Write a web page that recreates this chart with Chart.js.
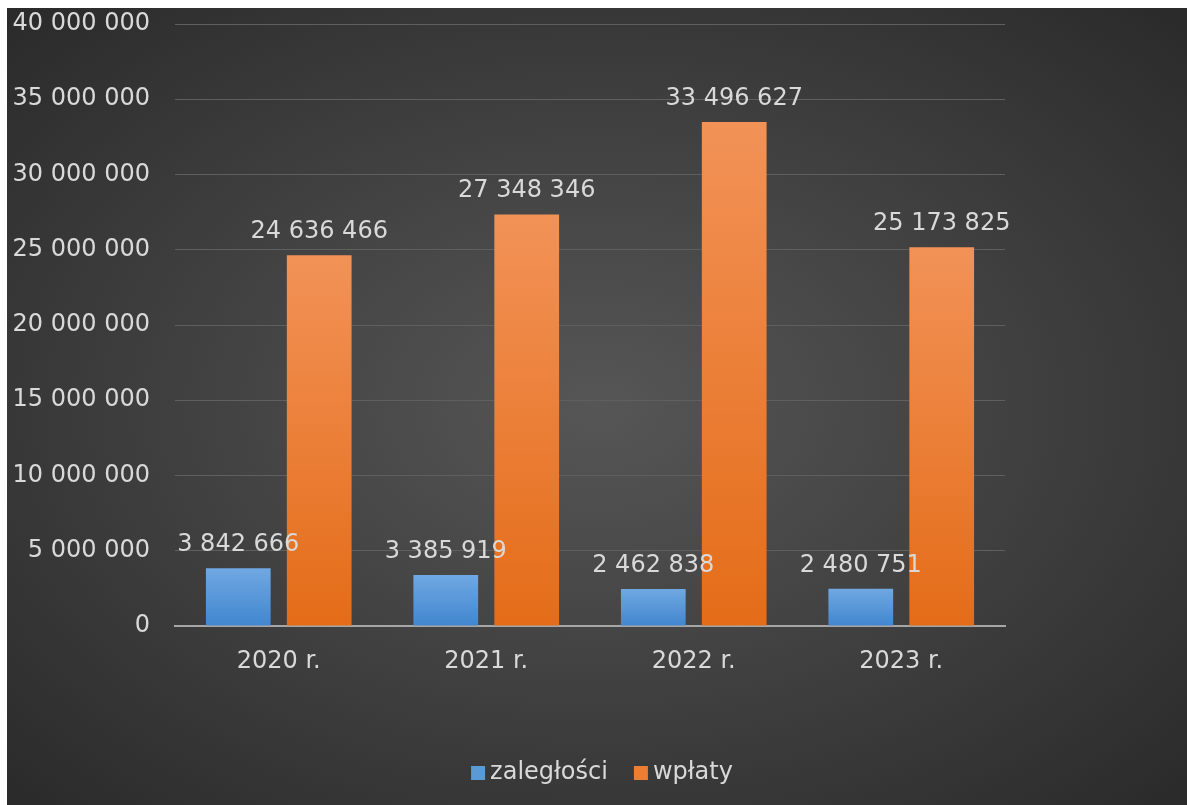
<!DOCTYPE html>
<html>
<head>
<meta charset="utf-8">
<script src="https://cdn.jsdelivr.net/npm/chart.js@4"></script>
<style>
    html, body { margin: 0; padding: 0; background: #fff; }
    #wrap {
        position: absolute; left: 7px; top: 8px; width: 1180px; height: 797px;
        background: radial-gradient(ellipse at 50% 50%, #565656 0%, #474747 35%, #2a2a2a 100%);
    }
</style>
</head>
<body>
<div id="wrap"><canvas id="chart" width="1180" height="797"></canvas></div>
<script>
const categories = ['2020 r.', '2021 r.', '2022 r.', '2023 r.'];
const zaleglosci = [3842666, 3385919, 2462838, 2480751];
const wplaty = [24636466, 27348346, 33496627, 25173825];
const seriesNames = ['zaległości', 'wpłaty'];
const legendColors = ['#5b9bd5', '#ed7d31'];

const FONT = '"DejaVu Sans", Verdana, sans-serif';

// spacje jako separator tysięcy
function fmt(v) {
    return String(Math.round(v)).replace(/\B(?=(\d{3})+(?!\d))/g, ' ');
}

// gradient per słupek: jaśniejszy u góry
function barGradient(top, bottom, fallback) {
    return function (ctx) {
        const chart = ctx.chart;
        const y = chart.scales && chart.scales.y;
        if (!chart.chartArea || !y || ctx.raw == null) return fallback;
        const yTop = y.getPixelForValue(ctx.raw);
        const yBot = y.getPixelForValue(0);
        const g = chart.ctx.createLinearGradient(0, yTop, 0, yBot);
        g.addColorStop(0, top);
        g.addColorStop(1, bottom);
        return g;
    };
}

const valueLabels = {
    id: 'valueLabels',
    afterDatasetsDraw(chart) {
        const ctx = chart.ctx;
        ctx.save();
        ctx.font = '24px ' + FONT;
        ctx.fillStyle = '#d9d9d9';
        ctx.textAlign = 'center';
        ctx.textBaseline = 'alphabetic';
        chart.data.datasets.forEach((ds, i) => {
            chart.getDatasetMeta(i).data.forEach((bar, j) => {
                ctx.fillText(fmt(ds.data[j]), bar.x, bar.y - 17);
            });
        });
        ctx.restore();
    }
};

// legenda wyśrodkowana na całym płótnie (jak w Excelu)
const bottomLegend = {
    id: 'bottomLegend',
    afterDraw(chart) {
        const ctx = chart.ctx;
        ctx.save();
        ctx.font = '24px ' + FONT;
        ctx.textBaseline = 'middle';
        const box = 14, gap = 5, spacing = 26;
        const widths = seriesNames.map(n => box + gap + ctx.measureText(n).width);
        const total = widths.reduce((a, b) => a + b, 0) + spacing * (widths.length - 1);
        let x = (chart.width - total) / 2 + 5;
        const yc = 765;
        seriesNames.forEach((n, i) => {
            ctx.fillStyle = legendColors[i];
            ctx.fillRect(x, yc - box / 2, box, box);
            ctx.fillStyle = '#d9d9d9';
            ctx.textAlign = 'left';
            ctx.fillText(n, x + box + gap, yc);
            x += widths[i] + spacing;
        });
        ctx.restore();
    }
};

Chart.defaults.font.family = FONT;
Chart.defaults.color = '#d9d9d9';

new Chart(document.getElementById('chart'), {
    type: 'bar',
    data: {
        labels: categories,
        datasets: [
            {
                label: seriesNames[0],
                data: zaleglosci,
                backgroundColor: barGradient('#70a8e2', '#4186cf', legendColors[0]),
                categoryPercentage: 0.78,
                barPercentage: 0.8
            },
            {
                label: seriesNames[1],
                data: wplaty,
                backgroundColor: barGradient('#f29257', '#e46c18', legendColors[1]),
                categoryPercentage: 0.78,
                barPercentage: 0.8
            }
        ]
    },
    options: {
        responsive: false,
        animation: false,
        layout: { padding: { top: 16, right: 182, bottom: 0, left: 0 } },
        scales: {
            x: {
                grid: { display: false, drawTicks: false },
                border: { display: true, color: '#a6a6a6', width: 2 },
                ticks: { color: '#d9d9d9', font: { size: 24 }, padding: 21 },
                afterFit: s => { s.height = 179; s.paddingLeft = 0; s.paddingRight = 0; }
            },
            y: {
                min: 0,
                max: 40000000,
                grid: { color: '#5f5f5f', lineWidth: 1, drawTicks: false },
                border: { display: false },
                ticks: {
                    stepSize: 5000000,
                    color: '#d9d9d9',
                    font: { size: 24 },
                    padding: 25,
                    callback: v => fmt(v)
                },
                afterFit: s => { s.width = 168; s.paddingTop = 0; s.paddingBottom = 0; }
            }
        },
        plugins: {
            legend: { display: false },
            tooltip: { enabled: false }
        }
    },
    plugins: [valueLabels, bottomLegend]
});
</script>
</body>
</html>
